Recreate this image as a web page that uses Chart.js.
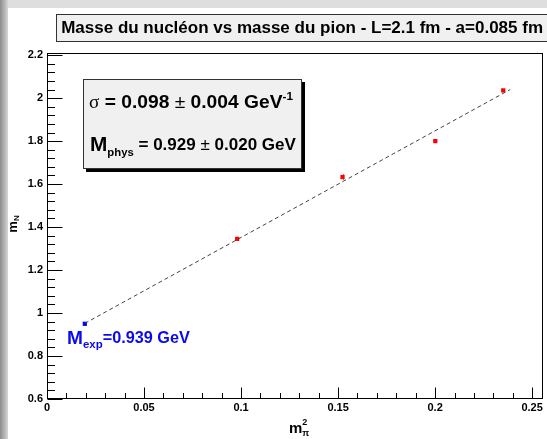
<!DOCTYPE html>
<html><head><meta charset="utf-8">
<script src="https://cdn.jsdelivr.net/npm/chart.js@4.4.1/dist/chart.umd.min.js"></script>
<style>html,body{margin:0;padding:0;background:#fff;overflow:hidden}#wrap{width:547px;height:439px;position:relative}</style>
</head><body><div id="wrap"><canvas id="c" width="547" height="439"></canvas></div>
<script>
// ---- data ----
const titleText = "Masse du nucléon vs masse du pion - L=2.1 fm - a=0.085 fm";
const mpi2 = [0.098, 0.1523, 0.2001, 0.2351];
const mN = [1.345, 1.633, 1.800, 2.036];
const mNerr = [0.008, 0.012, 0.006, 0.006];
const expX = [0.0195];
const expY = [0.95];
const fitX = [0.0195, 0.2387];
const fitY = [0.952, 2.040];
const xTicks = [0, 0.05, 0.1, 0.15, 0.2, 0.25];
const yTicks = [0.6, 0.8, 1, 1.2, 1.4, 1.6, 1.8, 2, 2.2];
const xRange = [0, 0.2556];
const yRange = [0.6, 2.21];
const statLine1 = ["σ", " = 0.098 ", "±", " 0.004 GeV", "-1"];
const statLine2 = ["M", "phys", " = 0.929 ", "±", " 0.020 GeV"];
const expLabel = ["M", "exp", "=0.939 GeV"];
const yTitle = ["m", "N"];
const xTitle = ["m", "2", "π"];

const SANS = '"Liberation Sans", Arial, Helvetica, sans-serif';
const SERIF = '"Liberation Serif", "DejaVu Serif", serif';

// measure title to fit width
const mc = document.createElement('canvas').getContext('2d');
mc.font = `bold 100px ${SANS}`;
const titleSize = 482 / mc.measureText(titleText).width * 100;

function rich(ctx, segs, x0, yc, targetW) {
  const fnt = (s, k) => `${s.w || 'bold'} ${s.size * k}px ${s.f || SANS}`;
  const measure = k => { let w = 0; segs.forEach(s => { ctx.font = fnt(s, k); w += (s.adv === false ? 0 : ctx.measureText(s.t).width) + (s.gap || 0) * k; }); return w; };
  const k = targetW ? targetW / measure(1) : 1;
  let x = x0;
  ctx.textBaseline = 'middle'; ctx.textAlign = 'left';
  segs.forEach(s => {
    ctx.font = fnt(s, k);
    ctx.fillText(s.t, x, yc + (s.dy || 0) * k);
    x += (s.adv === false ? 0 : ctx.measureText(s.t).width) + (s.gap || 0) * k;
  });
  return measure(k);
}

const deco = {
  id: 'deco',
  beforeDraw(chart) {
    const ctx = chart.ctx;
    ctx.save();
    ctx.fillStyle = '#fff'; ctx.fillRect(0, 0, chart.width, chart.height);
    ctx.fillStyle = '#dedede'; ctx.fillRect(0, 0, chart.width, 8);
    const g = ctx.createLinearGradient(0, 0, 8, 0);
    g.addColorStop(0, '#8c8c8c'); g.addColorStop(0.6, '#b8b8b8'); g.addColorStop(1, '#d8d8d8');
    ctx.fillStyle = g; ctx.fillRect(0, 0, 8, chart.height);
    // title box
    ctx.font = `bold ${titleSize}px ${SANS}`;
    const tw = ctx.measureText(titleText).width;
    const right = chart.width - chart.options.layout.padding.right;
    const bl = Math.round(right - tw - 5) + 0.5;
    ctx.fillStyle = '#f0f0f0'; ctx.fillRect(bl, 14.5, chart.width + 5 - bl, 27);
    ctx.strokeStyle = '#333'; ctx.lineWidth = 1; ctx.strokeRect(bl, 14.5, chart.width + 5 - bl, 27);
    ctx.restore();
  },
  beforeDatasetsDraw(chart) {
    const ctx = chart.ctx, xs = chart.scales.x, ys = chart.scales.y;
    ctx.save(); ctx.strokeStyle = '#ff0000'; ctx.lineWidth = 1;
    mpi2.forEach((v, i) => {
      const px = Math.round(xs.getPixelForValue(v)) + 0.5;
      ctx.beginPath();
      ctx.moveTo(px, ys.getPixelForValue(mN[i] - mNerr[i]));
      ctx.lineTo(px, ys.getPixelForValue(mN[i] + mNerr[i]));
      ctx.stroke();
    });
    ctx.restore();
  },
  afterDraw(chart) {
    const ctx = chart.ctx, a = chart.chartArea, xs = chart.scales.x, ys = chart.scales.y;
    ctx.save();
    ctx.strokeStyle = '#000'; ctx.lineWidth = 1;
    const L = Math.round(a.left) + 0.5, R = Math.round(a.right) - 0.5, T = Math.round(a.top) + 0.5, B = Math.round(a.bottom) - 0.5;
    ctx.strokeRect(L, T, R - L, B - T);
    ctx.beginPath();
    // y ticks
    const yStep = 0.04;
    for (let v = yRange[0]; v <= yRange[1] + 1e-9; v += yStep) {
      const major = yTicks.some(t => Math.abs(t - v) < 1e-6);
      const py = Math.round(ys.getPixelForValue(v)) + 0.5;
      ctx.moveTo(L, py); ctx.lineTo(L + (major ? 15 : 7.5), py);
    }
    const xStep = 0.01;
    for (let v = xRange[0]; v <= xRange[1] + 1e-9; v += xStep) {
      const major = xTicks.some(t => Math.abs(t - v) < 1e-6);
      const px = Math.round(xs.getPixelForValue(v)) + 0.5;
      ctx.moveTo(px, B); ctx.lineTo(px, B - (major ? 11 : 5.5));
    }
    ctx.stroke();

    // stats box
    const bx = 83, by = 79, bw = 219, bh = 90;
    ctx.fillStyle = '#000'; ctx.fillRect(bx + 3, by + 3, bw, bh);
    ctx.fillStyle = '#f0f0f0'; ctx.fillRect(bx, by, bw, bh);
    ctx.strokeStyle = '#333'; ctx.strokeRect(bx + 0.5, by + 0.5, bw - 1, bh - 1);
    ctx.fillStyle = '#000';
    rich(ctx, [
      { t: statLine1[0], size: 18, w: 'normal', f: SERIF },
      { t: statLine1[1], size: 18 },
      { t: statLine1[2], size: 18, w: 'normal' },
      { t: statLine1[3], size: 18 },
      { t: statLine1[4], size: 11, dy: -6 }
    ], 89, 103, 204);
    rich(ctx, [
      { t: statLine2[0], size: 22 },
      { t: statLine2[1], size: 12, dy: 8 },
      { t: statLine2[2], size: 18 },
      { t: statLine2[3], size: 18, w: 'normal' },
      { t: statLine2[4], size: 18 }
    ], 90, 145, 206);

    // experimental label
    ctx.fillStyle = '#0a0aee';
    rich(ctx, [
      { t: expLabel[0], size: 20 },
      { t: expLabel[1], size: 12, dy: 7 },
      { t: expLabel[2], size: 17 }
    ], 67, 338.5, 123);

    // axis titles
    ctx.fillStyle = '#000';
    ctx.save();
    ctx.translate(13, 224); ctx.rotate(-Math.PI / 2);
    const ysegs = [{ t: yTitle[0], size: 13 }, { t: yTitle[1], size: 8, dy: 4 }];
    ctx.font = `bold 13px ${SANS}`; let w = ctx.measureText('m').width; ctx.font = `bold 8px ${SANS}`; w += ctx.measureText('N').width;
    rich(ctx, ysegs, -w / 2, 0);
    ctx.restore();
    rich(ctx, [
      { t: xTitle[0], size: 15 },
      { t: xTitle[1], size: 9, dy: -6, adv: false },
      { t: xTitle[2], size: 9, dy: 5 }
    ], 289, 428.5);
    ctx.restore();
  }
};

const fmt = v => String(Math.round(v * 1000) / 1000);

new Chart(document.getElementById('c'), {
  type: 'scatter',
  data: {
    datasets: [
      { data: fitX.map((x, i) => ({ x, y: fitY[i] })), showLine: true, borderColor: '#444', borderWidth: 1, borderDash: [4, 3], pointRadius: 0, fill: false },
      { data: mpi2.map((x, i) => ({ x, y: mN[i] })), pointStyle: 'rect', pointRadius: 3, backgroundColor: '#ff0000', borderColor: '#ff0000', borderWidth: 0 },
      { data: expX.map((x, i) => ({ x, y: expY[i] })), pointStyle: 'rect', pointRadius: 3, backgroundColor: '#0000ff', borderColor: '#0000ff', borderWidth: 0 }
    ]
  },
  options: {
    responsive: false, animation: false, devicePixelRatio: 1,
    layout: { padding: { left: 0, right: 4, top: 0, bottom: 0 } },
    plugins: {
      legend: { display: false }, tooltip: { enabled: false },
      title: { display: true, text: titleText, align: 'end', color: '#000',
        font: { family: SANS, weight: 'bold', size: titleSize, lineHeight: '18px' },
        padding: { top: 19, bottom: 16 } }
    },
    scales: {
      x: { type: 'linear', min: xRange[0], max: xRange[1],
        grid: { display: false, drawTicks: false }, border: { display: false },
        afterBuildTicks: s => { s.ticks = xTicks.map(v => ({ value: v })); },
        afterFit: s => { s.height = 40; },
        ticks: { padding: 2, color: '#000', font: { family: SANS, weight: 'bold', size: 11 }, maxRotation: 0, autoSkip: false, callback: v => fmt(v) } },
      y: { type: 'linear', min: yRange[0], max: yRange[1],
        grid: { display: false, drawTicks: false }, border: { display: false },
        afterBuildTicks: s => { s.ticks = yTicks.map(v => ({ value: v })); },
        afterFit: s => { s.width = 47; },
        ticks: { padding: 4, color: '#000', font: { family: SANS, weight: 'bold', size: 11 }, autoSkip: false, callback: v => fmt(v) } }
    }
  },
  plugins: [deco]
});
</script></body></html>
